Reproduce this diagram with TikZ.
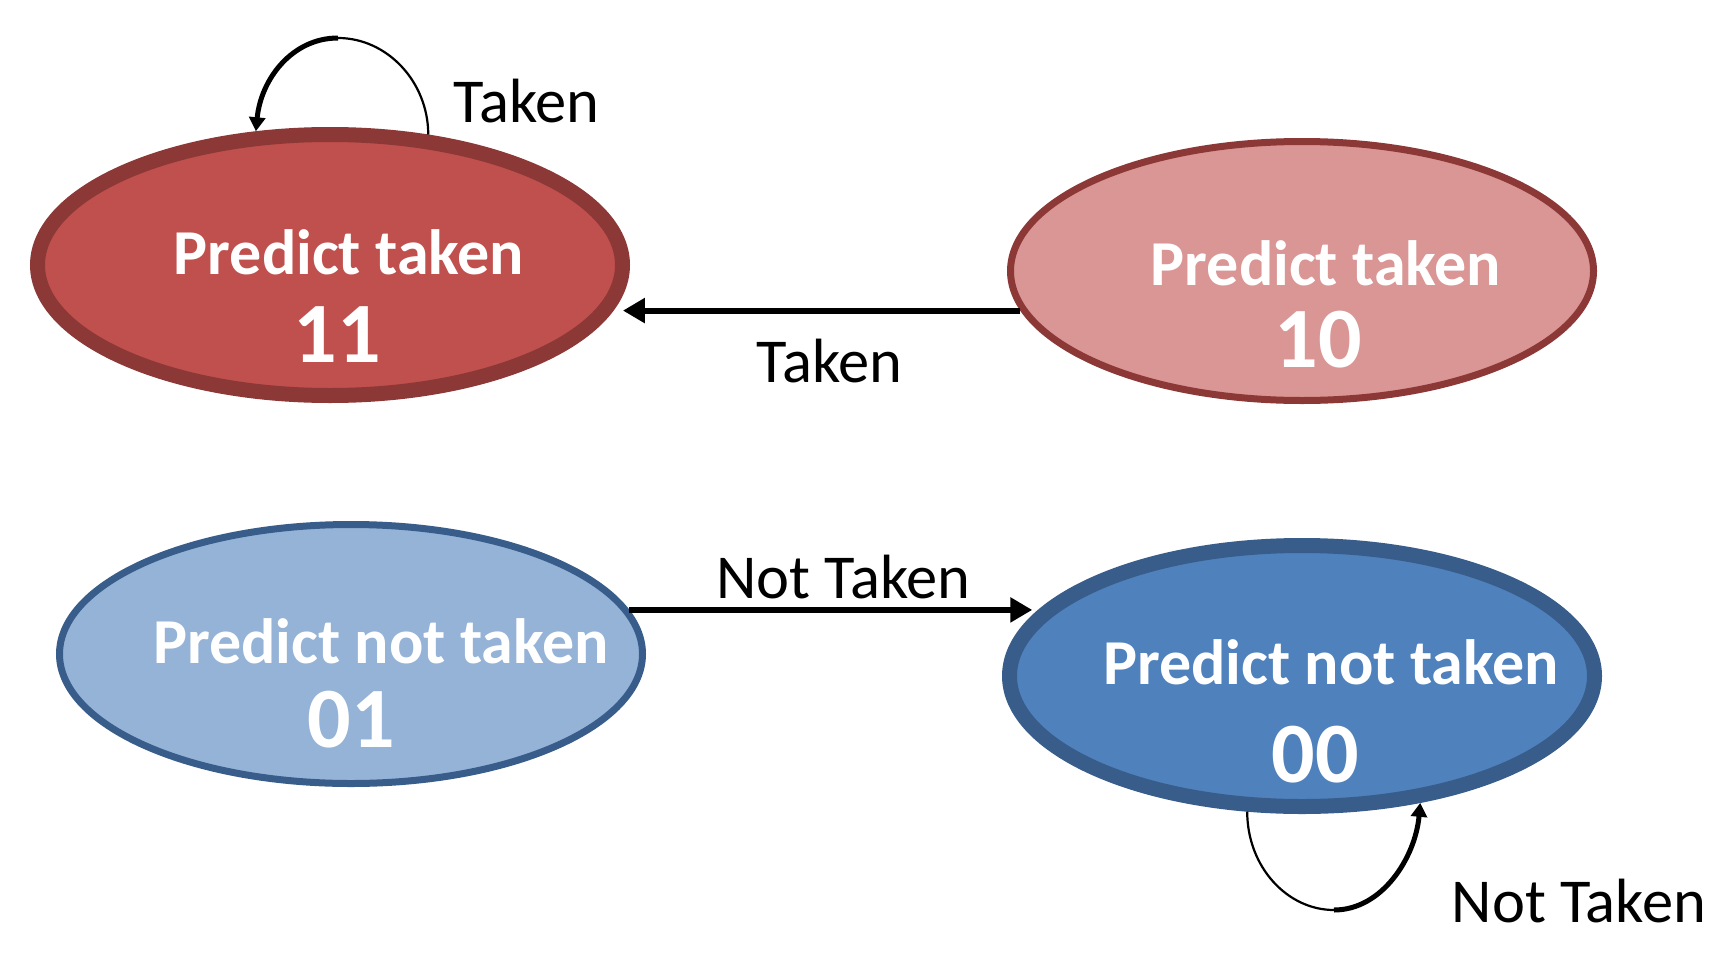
\documentclass[tikz,border=0pt]{standalone}
\usepackage{fontspec}
\setmainfont{Carlito}
\usetikzlibrary{shapes.geometric,arrows.meta}
\definecolor{redfill}{HTML}{C0504D}
\definecolor{redlight}{HTML}{D99694}
\definecolor{redline}{HTML}{8C3836}
\definecolor{bluefill}{HTML}{4F81BD}
\definecolor{bluelight}{HTML}{95B3D7}
\definecolor{blueline}{HTML}{385D8A}
\begin{document}
\begin{tikzpicture}[x=1pt,y=-1pt,
  state/.style={ellipse, draw, inner sep=0pt},
  strong/.style={state, line width=15pt, minimum width=585pt, minimum height=261pt},
  weak/.style={state, line width=7pt, minimum width=583pt, minimum height=259pt},
  nametxt/.style={text=white, inner sep=0pt, anchor=base, font=\bfseries\fontsize{64}{70}\selectfont},
  numtxt/.style={text=white, inner sep=0pt, anchor=base, font=\bfseries\fontsize{86}{95}\selectfont},
  lbl/.style={text=black, inner sep=0pt, anchor=base, font=\fontsize{62.5}{68}\selectfont},
  trans/.style={draw=black, line width=6pt, -{Triangle[length=22pt,width=24pt]}},
  loopthin/.style={draw=black, line width=2.2pt},
  loopthick/.style={draw=black, line width=5pt, -{Triangle[length=14pt,width=16pt]}}
]
\useasboundingbox (0,0) rectangle (1723,958);

% states
\node[strong, fill=redfill, draw=redline] (s11) at (330,265) {};
\node[weak, fill=redlight, draw=redline] (s10) at (1302,271) {};
\node[weak, fill=bluelight, draw=blueline] (s01) at (351,654) {};
\node[strong, fill=bluefill, draw=blueline] (s00) at (1302,676) {};

% state texts
\node[nametxt] (t11a) at (349,274) {Predict taken};
\node[numtxt]  (t11b) at (337,362) {11};
\node[nametxt] (t10a) at (1326,285) {Predict taken};
\node[numtxt]  (t10b) at (1318,367) {10};
\node[nametxt] (t01a) at (381,663) {Predict not taken};
\node[numtxt]  (t01b) at (351,747) {01};
\node[nametxt] (t00a) at (1331,684) {Predict not taken};
\node[numtxt]  (t00b) at (1315,782) {00};

% transitions
\draw[trans, shorten >=6pt] (s10.188.1) -- (s10.188.1 -| s11.-8.58);
\draw[trans, shorten >=6pt] (s01.9.0) -- (s01.9.0 -| s00.166.57);

% self loops
\coordinate (c11top) at (338,38);
\draw[loopthin] (s11.53.7) .. controls +(0,-53) and +(49,0) .. (c11top);
\draw[loopthick] (c11top) .. controls +(-46,0) and +(5,-52) .. (s11.119.4);

\coordinate (c00bot) at (1334,910);
\draw[loopthin] (s00.248.05) .. controls +(0,55) and +(-47,0) .. (c00bot);
\draw[loopthick] (c00bot) .. controls +(48,0) and +(-5,55) .. (s00.-47.12);

% labels
\node[lbl] (l1) at (526.5,122) {Taken};
\node[lbl] (l2) at (829.5,382) {Taken};
\node[lbl] (l3) at (843.5,598) {Not Taken};
\node[lbl] (l4) at (1579,922) {Not Taken};
\end{tikzpicture}
\end{document}
